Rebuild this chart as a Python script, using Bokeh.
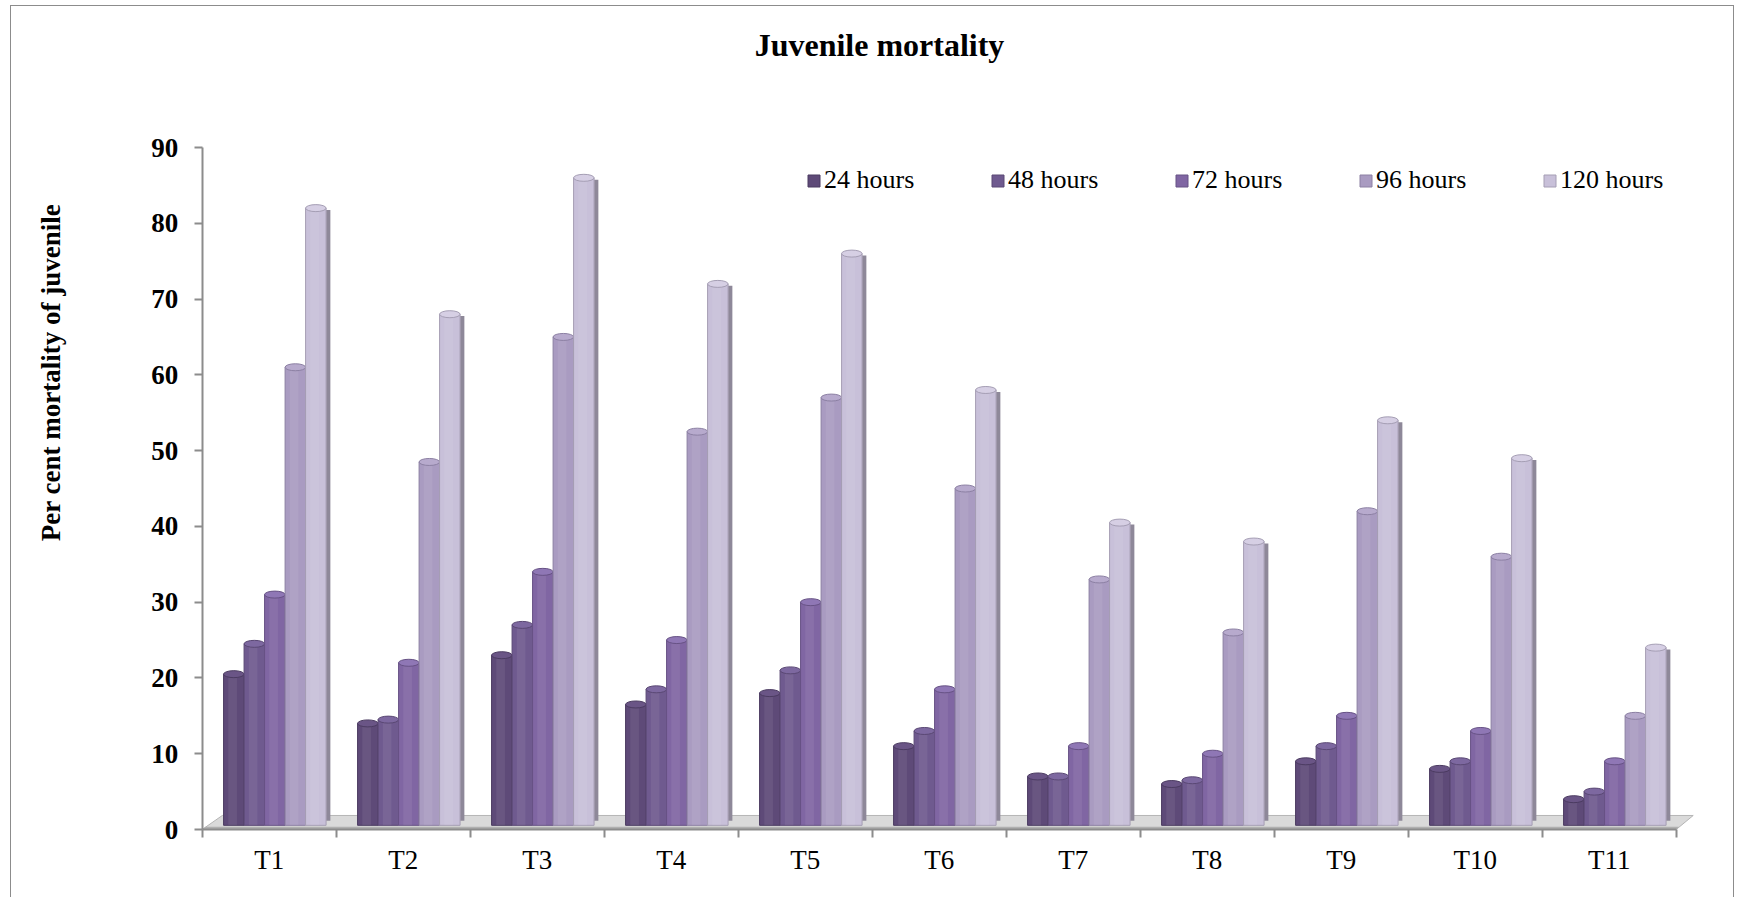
import numpy as np
from bokeh.plotting import figure
from bokeh.models import Range1d, FixedTicker, Legend, LegendItem, Label, ColumnDataSource
from bokeh.embed import file_html
from bokeh.resources import INLINE

# ---- data ----
categories = ["T1", "T2", "T3", "T4", "T5", "T6", "T7", "T8", "T9", "T10", "T11"]
series_names = ["24 hours", "48 hours", "72 hours", "96 hours", "120 hours"]
h24 = [20.5, 14.0, 23.0, 16.5, 18.0, 11.0, 7.0, 6.0, 9.0, 8.0, 4.0]
h48 = [24.5, 14.5, 27.0, 18.5, 21.0, 13.0, 7.0, 6.5, 11.0, 9.0, 5.0]
h72 = [31.0, 22.0, 34.0, 25.0, 30.0, 18.5, 11.0, 10.0, 15.0, 13.0, 9.0]
h96 = [61.0, 48.5, 65.0, 52.5, 57.0, 45.0, 33.0, 26.0, 42.0, 36.0, 15.0]
h120 = [82.0, 68.0, 86.0, 72.0, 76.0, 58.0, 40.5, 38.0, 54.0, 49.0, 24.0]
y_ticks = [0, 10, 20, 30, 40, 50, 60, 70, 80, 90]

series = [h24, h48, h72, h96, h120]

# ---- styles ----
front_colors = ["#5E4A78", "#6F5A8F", "#8066A3", "#A99BC1", "#C8C0D9"]
cap_colors = ["#6A5586", "#7D68A0", "#8F77B5", "#B7AACD", "#D6CFE4"]
edge_colors = ["#4B3B61", "#5A4874", "#675285", "#8C80A3", "#A59EB4"]
side_colors = ["#4A3B5E", "#56476C", "#62527A", "#8A8298", "#8E8899"]
FONT = "Liberation Serif"
AXIS_GRAY = "#8C8C8C"

n = len(categories)
ymax = y_ticks[-1]
W, H = 1724, 892
px_x = 134.0            # pixels per category
px_y = 682.0 / ymax     # pixels per unit of y
org_x, org_y = 190.7, 69.0   # axis origin inside the figure (px from left / bottom)
x0 = -org_x / px_x
y0 = -org_y / px_y

bw = 0.153          # bar front width (data units)
sw = 0.032          # visible side depth
shift = 0.042       # 3D depth shift of bar group
base = 0.55         # bars stand on the middle of the floor
depth_x, depth_y = 0.15, 1.85

p = figure(width=W, height=H,
           x_range=Range1d(x0, x0 + W / px_x), y_range=Range1d(y0, y0 + H / px_y),
           output_backend="svg", toolbar_location=None, min_border=0)
p.styles = {"border-left": "1px solid #8C8C8C", "border-top": "1px solid #8C8C8C",
            "border-right": "1px solid #8C8C8C",
            "margin-left": "10px", "margin-top": "5px"}
p.outline_line_color = None
p.xgrid.visible = False
p.ygrid.visible = False
p.background_fill_color = "white"
p.border_fill_color = "white"

# floor
p.patch(x=[0, n, n + 0.127, depth_x], y=[0, 0, depth_y, depth_y],
        fill_color="#DADADA", line_color="#B5B5B5", line_width=1)
p.patch(x=[0, n, n + 0.02, 0.025], y=[0, 0, 0.35, 0.35],
        fill_color="#B0B0B0", line_color=None)

centers = np.arange(n) + 0.5
legend_items = []
for j, (name, vals) in enumerate(zip(series_names, series)):
    vals = np.array(vals, dtype=float)
    x = centers + (j - 2) * bw + shift
    src = ColumnDataSource(dict(x=x, top=vals, xs=x + bw / 2 + sw / 2,
                                stop=vals - 0.25, xh=x - bw * 0.06,
                                cat=categories))
    p.vbar(x="xs", width=sw, top="stop", bottom=base + 0.6, source=src,
           fill_color=side_colors[j], line_color=None)
    r = p.vbar(x="x", width=bw, top="top", bottom=base, source=src,
               fill_color=front_colors[j], line_color=edge_colors[j], line_width=1)
    p.vbar(x="xh", width=bw * 0.42, top="top", bottom=base, source=src,
           fill_color="white", fill_alpha=0.07, line_color=None)
    p.ellipse(x="x", y="top", width=bw, height=7, height_units="screen", source=src,
              fill_color=cap_colors[j], line_color=edge_colors[j], line_width=1)
    legend_items.append(LegendItem(label=name, renderers=[r]))

legend = Legend(items=legend_items, orientation="horizontal", location=(795, 703),
                glyph_width=15, glyph_height=15, label_standoff=3, label_width=150,
                spacing=16, padding=0, margin=0, border_line_color=None,
                background_fill_alpha=0, label_text_font=FONT,
                label_text_font_size="26px", label_text_color="black")
p.add_layout(legend)

# y axis (fixed at x = 0)
p.yaxis.fixed_location = 0
p.yaxis.ticker = FixedTicker(ticks=y_ticks)
p.yaxis.bounds = (0, ymax)
p.yaxis.axis_line_color = AXIS_GRAY
p.yaxis.axis_line_width = 2
p.yaxis.major_tick_line_color = AXIS_GRAY
p.yaxis.major_tick_line_width = 2
p.yaxis.major_tick_out = 8
p.yaxis.major_tick_in = 0
p.yaxis.minor_tick_line_color = None
p.yaxis.major_label_standoff = 16
p.yaxis.major_label_text_font = FONT
p.yaxis.major_label_text_font_style = "bold"
p.yaxis.major_label_text_font_size = "27px"
p.yaxis.major_label_text_color = "black"

# x axis (fixed at y = 0)
p.xaxis.fixed_location = 0
p.xaxis.ticker = FixedTicker(ticks=list(centers), minor_ticks=list(range(n + 1)))
p.xaxis.bounds = (0, n)
p.xaxis.major_label_overrides = {float(c): t for c, t in zip(centers, categories)}
p.xaxis.axis_line_color = AXIS_GRAY
p.xaxis.axis_line_width = 2
p.xaxis.major_tick_line_color = None
p.xaxis.major_tick_out = 0
p.xaxis.major_tick_in = 0
p.xaxis.minor_tick_line_color = AXIS_GRAY
p.xaxis.minor_tick_line_width = 2
p.xaxis.minor_tick_out = 8
p.xaxis.minor_tick_in = 0
p.xaxis.major_label_standoff = 7
p.xaxis.major_label_text_font = FONT
p.xaxis.major_label_text_font_size = "27px"
p.xaxis.major_label_text_color = "black"

# title and y-axis title
p.add_layout(Label(x=868, y=H - 38, x_units="screen", y_units="screen",
                   text="Juvenile mortality", text_font=FONT, text_font_size="32px",
                   text_font_style="bold", text_align="center",
                   text_baseline="alphabetic", text_color="black"))
p.add_layout(Label(x=39, y=H - 366, x_units="screen", y_units="screen", angle=np.pi / 2,
                   text="Per cent mortality of juvenile", text_font=FONT,
                   text_font_size="27px", text_font_style="bold", text_align="center",
                   text_baseline="middle", text_color="black"))

open("out.html", "w").write(file_html(p, INLINE))
